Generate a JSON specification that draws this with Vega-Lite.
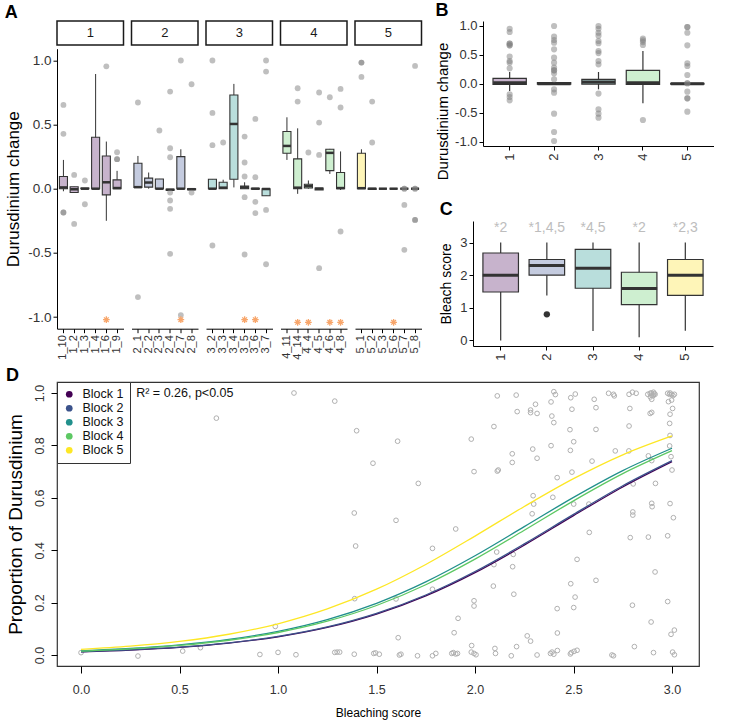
{
"$schema": "https://vega.github.io/schema/vega-lite/v6.json",
"padding": {"left": 4, "top": 1, "right": 0, "bottom": 0},
"background": "white",
"config": {
 "font": "Liberation Sans",
 "view": {"stroke": null},
 "axis": {"grid": false, "domainColor": "#000", "domainWidth": 1, "tickColor": "#000", "labelColor": "#333", "titleColor": "#000", "titleFontWeight": "normal", "labelFont": "Liberation Sans", "titleFont": "Liberation Sans"},
 "title": {"fontSize": 18, "fontWeight": "bold", "anchor": "start", "frame": "bounds", "offset": 2, "font": "Liberation Sans"},
 "legend": {"labelFont": "Liberation Sans"}
},
"resolve": {"legend": {"color": "independent"}},
"datasets": {
 "aHead": [{"block": "1"}, {"block": "2"}, {"block": "3"}, {"block": "4"}, {"block": "5"}],
 "aBox": [
  {"block": "1", "site": "1_10", "lo": -0.02, "q1": 0.0, "med": 0.01, "q3": 0.095, "hi": 0.224},
  {"block": "1", "site": "1_2", "lo": -0.03, "q1": -0.03, "med": -0.005, "q3": 0.015, "hi": 0.015},
  {"block": "1", "site": "1_3", "lo": 0.0, "q1": 0.0, "med": 0.0, "q3": 0.005, "hi": 0.005},
  {"block": "1", "site": "1_4", "lo": 0.0, "q1": 0.0, "med": 0.0, "q3": 0.40, "hi": 0.893},
  {"block": "1", "site": "1_6", "lo": -0.25, "q1": -0.048, "med": 0.05, "q3": 0.255, "hi": 0.367},
  {"block": "1", "site": "1_9", "lo": 0.0, "q1": 0.0, "med": 0.005, "q3": 0.069, "hi": 0.139},
  {"block": "2", "site": "2_1", "lo": 0.01, "q1": 0.01, "med": 0.012, "q3": 0.198, "hi": 0.255},
  {"block": "2", "site": "2_2", "lo": 0.0, "q1": 0.012, "med": 0.048, "q3": 0.082, "hi": 0.126},
  {"block": "2", "site": "2_3", "lo": 0.0, "q1": 0.0, "med": 0.0, "q3": 0.076, "hi": 0.076},
  {"block": "2", "site": "2_4", "lo": -0.012, "q1": -0.012, "med": -0.008, "q3": -0.004, "hi": -0.004},
  {"block": "2", "site": "2_7", "lo": 0.0, "q1": 0.0, "med": 0.0, "q3": 0.25, "hi": 0.307},
  {"block": "2", "site": "2_8", "lo": -0.008, "q1": -0.008, "med": -0.004, "q3": 0.0, "hi": 0.0},
  {"block": "3", "site": "3_2", "lo": 0.0, "q1": 0.0, "med": 0.0, "q3": 0.074, "hi": 0.074},
  {"block": "3", "site": "3_3", "lo": 0.0, "q1": 0.0, "med": 0.008, "q3": 0.05, "hi": 0.07},
  {"block": "3", "site": "3_4", "lo": 0.01, "q1": 0.074, "med": 0.504, "q3": 0.73, "hi": 0.816},
  {"block": "3", "site": "3_5", "lo": 0.0, "q1": 0.0, "med": 0.01, "q3": 0.02, "hi": 0.05},
  {"block": "3", "site": "3_6", "lo": -0.003, "q1": -0.003, "med": 0.0, "q3": 0.003, "hi": 0.003},
  {"block": "3", "site": "3_7", "lo": -0.055, "q1": -0.055, "med": -0.003, "q3": 0.0, "hi": 0.0},
  {"block": "4", "site": "4_11", "lo": 0.224, "q1": 0.276, "med": 0.333, "q3": 0.445, "hi": 0.556},
  {"block": "4", "site": "4_14", "lo": -0.04, "q1": 0.0, "med": 0.008, "q3": 0.232, "hi": 0.47},
  {"block": "4", "site": "4_4", "lo": 0.0, "q1": 0.005, "med": 0.02, "q3": 0.035, "hi": 0.064},
  {"block": "4", "site": "4_5", "lo": -0.01, "q1": -0.01, "med": 0.0, "q3": 0.005, "hi": 0.005},
  {"block": "4", "site": "4_6", "lo": 0.115, "q1": 0.141, "med": 0.279, "q3": 0.307, "hi": 0.31},
  {"block": "4", "site": "4_8", "lo": -0.01, "q1": 0.0, "med": 0.005, "q3": 0.126, "hi": 0.29},
  {"block": "5", "site": "5_1", "lo": 0.0, "q1": 0.0, "med": 0.004, "q3": 0.276, "hi": 0.307},
  {"block": "5", "site": "5_2", "lo": -0.005, "q1": -0.005, "med": 0.0, "q3": 0.003, "hi": 0.003},
  {"block": "5", "site": "5_3", "lo": 0.0, "q1": 0.0, "med": 0.0, "q3": 0.0, "hi": 0.0},
  {"block": "5", "site": "5_6", "lo": 0.0, "q1": 0.0, "med": 0.0, "q3": 0.0, "hi": 0.0},
  {"block": "5", "site": "5_7", "lo": 0.0, "q1": 0.0, "med": 0.0, "q3": 0.0, "hi": 0.0},
  {"block": "5", "site": "5_8", "lo": 0.0, "q1": 0.0, "med": 0.0, "q3": 0.0, "hi": 0.0}
 ],
 "aOut": [
  {"block": "1", "site": "1_10", "v": 0.652}, {"block": "1", "site": "1_10", "v": 0.427}, {"block": "1", "site": "1_10", "v": -0.185}, {"block": "1", "site": "1_10", "v": -0.185},
  {"block": "1", "site": "1_2", "v": 0.107}, {"block": "1", "site": "1_2", "v": -0.274},
  {"block": "1", "site": "1_3", "v": 0.064}, {"block": "1", "site": "1_3", "v": -0.121},
  {"block": "1", "site": "1_6", "v": 0.953},
  {"block": "1", "site": "1_9", "v": 0.284}, {"block": "1", "site": "1_9", "v": 0.23}, {"block": "1", "site": "1_9", "v": 0.23},
  {"block": "2", "site": "2_1", "v": 0.671}, {"block": "2", "site": "2_1", "v": -0.844},
  {"block": "2", "site": "2_3", "v": 0.453},
  {"block": "2", "site": "2_4", "v": 0.756}, {"block": "2", "site": "2_4", "v": 0.315}, {"block": "2", "site": "2_4", "v": 0.245}, {"block": "2", "site": "2_4", "v": -0.03}, {"block": "2", "site": "2_4", "v": -0.092}, {"block": "2", "site": "2_4", "v": -0.157}, {"block": "2", "site": "2_4", "v": -0.507},
  {"block": "2", "site": "2_7", "v": 0.998}, {"block": "2", "site": "2_7", "v": -0.984},
  {"block": "2", "site": "2_8", "v": 0.813}, {"block": "2", "site": "2_8", "v": -0.03},
  {"block": "3", "site": "3_2", "v": 0.998}, {"block": "3", "site": "3_2", "v": 0.59}, {"block": "3", "site": "3_2", "v": 0.339}, {"block": "3", "site": "3_2", "v": -0.442},
  {"block": "3", "site": "3_3", "v": 0.36},
  {"block": "3", "site": "3_5", "v": 0.406}, {"block": "3", "site": "3_5", "v": 0.204}, {"block": "3", "site": "3_5", "v": 0.095}, {"block": "3", "site": "3_5", "v": -0.066}, {"block": "3", "site": "3_5", "v": -0.512},
  {"block": "3", "site": "3_6", "v": 0.543}, {"block": "3", "site": "3_6", "v": 0.09}, {"block": "3", "site": "3_6", "v": -0.102}, {"block": "3", "site": "3_6", "v": -0.19},
  {"block": "3", "site": "3_7", "v": 0.998}, {"block": "3", "site": "3_7", "v": 0.912}, {"block": "3", "site": "3_7", "v": -0.165}, {"block": "3", "site": "3_7", "v": -0.588},
  {"block": "4", "site": "4_14", "v": 0.782}, {"block": "4", "site": "4_14", "v": 0.678},
  {"block": "4", "site": "4_4", "v": 0.282},
  {"block": "4", "site": "4_5", "v": 0.749}, {"block": "4", "site": "4_5", "v": 0.515}, {"block": "4", "site": "4_5", "v": 0.263}, {"block": "4", "site": "4_5", "v": -0.619},
  {"block": "4", "site": "4_6", "v": 0.712},
  {"block": "4", "site": "4_8", "v": 0.777}, {"block": "4", "site": "4_8", "v": 0.632}, {"block": "4", "site": "4_8", "v": -0.333},
  {"block": "5", "site": "5_1", "v": 0.982}, {"block": "5", "site": "5_1", "v": 0.982}, {"block": "5", "site": "5_1", "v": 0.87},
  {"block": "5", "site": "5_2", "v": 0.678}, {"block": "5", "site": "5_2", "v": 0.36},
  {"block": "5", "site": "5_7", "v": 0.0}, {"block": "5", "site": "5_7", "v": 0.0}, {"block": "5", "site": "5_7", "v": -0.126}, {"block": "5", "site": "5_7", "v": -0.476},
  {"block": "5", "site": "5_8", "v": 0.956}, {"block": "5", "site": "5_8", "v": 0.0}, {"block": "5", "site": "5_8", "v": 0.0}, {"block": "5", "site": "5_8", "v": -0.243}, {"block": "5", "site": "5_8", "v": -0.243}
 ],
 "aStar": [
  {"block": "1", "site": "1_6", "v": -1.02},
  {"block": "2", "site": "2_7", "v": -1.02},
  {"block": "3", "site": "3_5", "v": -1.02}, {"block": "3", "site": "3_6", "v": -1.02},
  {"block": "4", "site": "4_14", "v": -1.04}, {"block": "4", "site": "4_4", "v": -1.04}, {"block": "4", "site": "4_6", "v": -1.04}, {"block": "4", "site": "4_8", "v": -1.04},
  {"block": "5", "site": "5_6", "v": -1.04}
 ],
 "bBox": [
  {"block": "1", "lo": -0.124, "q1": -0.009, "med": 0.02, "q3": 0.095, "hi": 0.204},
  {"block": "2", "lo": -0.01, "q1": -0.005, "med": 0.0, "q3": 0.02, "hi": 0.03},
  {"block": "3", "lo": -0.095, "q1": -0.005, "med": 0.03, "q3": 0.078, "hi": 0.204},
  {"block": "4", "lo": -0.336, "q1": -0.009, "med": 0.02, "q3": 0.233, "hi": 0.566},
  {"block": "5", "lo": 0.0, "q1": -0.005, "med": 0.0, "q3": 0.01, "hi": 0.01}
 ],
 "bOut": [
  {"block": "1", "v": 0.95}, {"block": "1", "v": 0.893}, {"block": "1", "v": 0.693}, {"block": "1", "v": 0.693}, {"block": "1", "v": 0.664}, {"block": "1", "v": 0.664}, {"block": "1", "v": 0.469}, {"block": "1", "v": 0.393}, {"block": "1", "v": 0.365}, {"block": "1", "v": 0.267}, {"block": "1", "v": -0.181}, {"block": "1", "v": -0.227}, {"block": "1", "v": -0.284},
  {"block": "2", "v": 0.997}, {"block": "2", "v": 0.813}, {"block": "2", "v": 0.756}, {"block": "2", "v": 0.71}, {"block": "2", "v": 0.595}, {"block": "2", "v": 0.451}, {"block": "2", "v": 0.365}, {"block": "2", "v": 0.279}, {"block": "2", "v": 0.233}, {"block": "2", "v": 0.233}, {"block": "2", "v": 0.181}, {"block": "2", "v": 0.078}, {"block": "2", "v": -0.095}, {"block": "2", "v": -0.152}, {"block": "2", "v": -0.514}, {"block": "2", "v": -0.831}, {"block": "2", "v": -0.986},
  {"block": "3", "v": 0.997}, {"block": "3", "v": 0.95}, {"block": "3", "v": 0.88}, {"block": "3", "v": 0.83}, {"block": "3", "v": 0.738}, {"block": "3", "v": 0.70}, {"block": "3", "v": 0.566}, {"block": "3", "v": 0.53}, {"block": "3", "v": 0.393}, {"block": "3", "v": 0.336}, {"block": "3", "v": -0.169}, {"block": "3", "v": -0.44}, {"block": "3", "v": -0.514}, {"block": "3", "v": -0.583},
  {"block": "4", "v": 0.779}, {"block": "4", "v": 0.75}, {"block": "4", "v": 0.72}, {"block": "4", "v": 0.669}, {"block": "4", "v": -0.624},
  {"block": "5", "v": 0.98}, {"block": "5", "v": 0.98}, {"block": "5", "v": 0.88}, {"block": "5", "v": 0.664}, {"block": "5", "v": 0.353}, {"block": "5", "v": 0.307}, {"block": "5", "v": 0.152}, {"block": "5", "v": 0.01}, {"block": "5", "v": 0.01}, {"block": "5", "v": -0.135}, {"block": "5", "v": -0.25}, {"block": "5", "v": -0.25}, {"block": "5", "v": -0.48}
 ],
 "cBox": [
  {"block": "1", "lo": 0.0, "q1": 1.485, "med": 2.0, "q3": 2.68, "hi": 3.0},
  {"block": "2", "lo": 1.38, "q1": 2.0, "med": 2.3, "q3": 2.48, "hi": 3.0},
  {"block": "3", "lo": 0.29, "q1": 1.6, "med": 2.21, "q3": 2.79, "hi": 3.0},
  {"block": "4", "lo": 0.1, "q1": 1.1, "med": 1.59, "q3": 2.09, "hi": 3.0},
  {"block": "5", "lo": 0.3, "q1": 1.38, "med": 2.0, "q3": 2.48, "hi": 3.0}
 ],
 "cOut": [{"block": "2", "v": 0.8}],
 "cLab": [
  {"block": "1", "label": "*2", "v": 3.45},
  {"block": "2", "label": "*1,4,5", "v": 3.45},
  {"block": "3", "label": "*4,5", "v": 3.45},
  {"block": "4", "label": "*2", "v": 3.45},
  {"block": "5", "label": "*2,3", "v": 3.45}
 ],
 "dCurve": [
  {"block": "Block 1", "x": 0, "p": 0.0120}, {"block": "Block 1", "x": 0.25, "p": 0.0188}, {"block": "Block 1", "x": 0.5, "p": 0.0292}, {"block": "Block 1", "x": 0.75, "p": 0.0453}, {"block": "Block 1", "x": 1, "p": 0.0694}, {"block": "Block 1", "x": 1.25, "p": 0.1051}, {"block": "Block 1", "x": 1.5, "p": 0.1561}, {"block": "Block 1", "x": 1.75, "p": 0.2255}, {"block": "Block 1", "x": 2, "p": 0.3143}, {"block": "Block 1", "x": 2.25, "p": 0.4192}, {"block": "Block 1", "x": 2.5, "p": 0.5318}, {"block": "Block 1", "x": 2.75, "p": 0.6414}, {"block": "Block 1", "x": 3, "p": 0.7379},
  {"block": "Block 2", "x": 0, "p": 0.0122}, {"block": "Block 2", "x": 0.25, "p": 0.0192}, {"block": "Block 2", "x": 0.5, "p": 0.0298}, {"block": "Block 2", "x": 0.75, "p": 0.0462}, {"block": "Block 2", "x": 1, "p": 0.0707}, {"block": "Block 2", "x": 1.25, "p": 0.1070}, {"block": "Block 2", "x": 1.5, "p": 0.1588}, {"block": "Block 2", "x": 1.75, "p": 0.2290}, {"block": "Block 2", "x": 2, "p": 0.3186}, {"block": "Block 2", "x": 2.25, "p": 0.4241}, {"block": "Block 2", "x": 2.5, "p": 0.5368}, {"block": "Block 2", "x": 2.75, "p": 0.6460}, {"block": "Block 2", "x": 3, "p": 0.7418},
  {"block": "Block 3", "x": 0, "p": 0.0159}, {"block": "Block 3", "x": 0.25, "p": 0.0248}, {"block": "Block 3", "x": 0.5, "p": 0.0385}, {"block": "Block 3", "x": 0.75, "p": 0.0593}, {"block": "Block 3", "x": 1, "p": 0.0903}, {"block": "Block 3", "x": 1.25, "p": 0.1352}, {"block": "Block 3", "x": 1.5, "p": 0.1974}, {"block": "Block 3", "x": 1.75, "p": 0.2791}, {"block": "Block 3", "x": 2, "p": 0.3787}, {"block": "Block 3", "x": 2.25, "p": 0.4898}, {"block": "Block 3", "x": 2.5, "p": 0.6017}, {"block": "Block 3", "x": 2.75, "p": 0.7039}, {"block": "Block 3", "x": 3, "p": 0.7892},
  {"block": "Block 4", "x": 0, "p": 0.0151}, {"block": "Block 4", "x": 0.25, "p": 0.0235}, {"block": "Block 4", "x": 0.5, "p": 0.0365}, {"block": "Block 4", "x": 0.75, "p": 0.0563}, {"block": "Block 4", "x": 1, "p": 0.0859}, {"block": "Block 4", "x": 1.25, "p": 0.1289}, {"block": "Block 4", "x": 1.5, "p": 0.1889}, {"block": "Block 4", "x": 1.75, "p": 0.2682}, {"block": "Block 4", "x": 2, "p": 0.3659}, {"block": "Block 4", "x": 2.25, "p": 0.4760}, {"block": "Block 4", "x": 2.5, "p": 0.5885}, {"block": "Block 4", "x": 2.75, "p": 0.6923}, {"block": "Block 4", "x": 3, "p": 0.7799},
  {"block": "Block 5", "x": 0, "p": 0.0215}, {"block": "Block 5", "x": 0.25, "p": 0.0335}, {"block": "Block 5", "x": 0.5, "p": 0.0518}, {"block": "Block 5", "x": 0.75, "p": 0.0792}, {"block": "Block 5", "x": 1, "p": 0.1192}, {"block": "Block 5", "x": 1.25, "p": 0.1757}, {"block": "Block 5", "x": 1.5, "p": 0.2511}, {"block": "Block 5", "x": 1.75, "p": 0.3455}, {"block": "Block 5", "x": 2, "p": 0.4539}, {"block": "Block 5", "x": 2.25, "p": 0.5669}, {"block": "Block 5", "x": 2.5, "p": 0.6732}, {"block": "Block 5", "x": 2.75, "p": 0.7642}, {"block": "Block 5", "x": 3, "p": 0.8361}
 ],
 "dText": [{"x": 0.28, "y": 1.0, "label": "R² = 0.26, p<0.05"}],
 "dPts": [
  {"x": 0.0, "y": 0.009}, {"x": 0.289, "y": -0.004}, {"x": 0.516, "y": 0.015}, {"x": 0.606, "y": 0.028}, {"x": 0.687, "y": 0.904}, {"x": 0.908, "y": 0.002}, {"x": 0.986, "y": 0.109}, {"x": 1.0, "y": 0.01}, {"x": 1.081, "y": 1.0}, {"x": 1.091, "y": 0.001}, {"x": 1.288, "y": 0.969}, {"x": 1.288, "y": 0.01}, {"x": 1.30, "y": 0.011}, {"x": 1.313, "y": 0.011}, {"x": 1.387, "y": 0.003}, {"x": 1.389, "y": 0.215}, {"x": 1.394, "y": 0.416}, {"x": 1.399, "y": 0.856}, {"x": 1.482, "y": 0.732}, {"x": 1.387, "y": 0.542}, {"x": 1.486, "y": 0.006}, {"x": 1.495, "y": 0.008},
  {"x": 1.599, "y": 0.214}, {"x": 1.610, "y": 0.066}, {"x": 1.607, "y": 0.816}, {"x": 1.599, "y": 0.514}, {"x": 1.712, "y": 0.655},
  {"x": 2.113, "y": 0.989}, {"x": 2.209, "y": 0.992}, {"x": 2.400, "y": 1.005}, {"x": 2.408, "y": 0.994}, {"x": 2.486, "y": 0.982}, {"x": 2.509, "y": 0.996}, {"x": 2.605, "y": 0.976}, {"x": 2.678, "y": 0.999}, {"x": 2.703, "y": 0.995}, {"x": 2.707, "y": 0.989}, {"x": 2.782, "y": 0.995}, {"x": 2.799, "y": 1.003}, {"x": 2.818, "y": 0.999}, {"x": 2.877, "y": 0.995}, {"x": 2.889, "y": 0.999}, {"x": 2.897, "y": 0.992}, {"x": 2.906, "y": 1.003}, {"x": 2.914, "y": 0.995}, {"x": 2.897, "y": 0.976}, {"x": 2.978, "y": 0.999}, {"x": 2.987, "y": 0.995}, {"x": 2.998, "y": 0.995}, {"x": 3.012, "y": 0.995}, {"x": 2.982, "y": 0.967}, {"x": 2.998, "y": 0.973}, {"x": 2.895, "y": 1.0}, {"x": 2.905, "y": 0.99}, {"x": 2.91, "y": 0.998}, {"x": 2.89, "y": 0.985}, {"x": 2.99, "y": 1.0}, {"x": 3.005, "y": 0.99},
  {"x": 2.214, "y": 0.929}, {"x": 2.282, "y": 0.935}, {"x": 2.307, "y": 0.957}, {"x": 2.315, "y": 0.922}, {"x": 2.282, "y": 0.925}, {"x": 2.386, "y": 0.966}, {"x": 2.390, "y": 0.912}, {"x": 2.400, "y": 0.887}, {"x": 2.492, "y": 0.938}, {"x": 2.614, "y": 0.944}, {"x": 2.786, "y": 0.941}, {"x": 2.889, "y": 0.922}, {"x": 2.897, "y": 0.926}, {"x": 3.003, "y": 0.941}, {"x": 2.990, "y": 0.919}, {"x": 2.096, "y": 0.872}, {"x": 2.482, "y": 0.860}, {"x": 2.614, "y": 0.861}, {"x": 2.782, "y": 0.874}, {"x": 2.988, "y": 0.884},
  {"x": 1.981, "y": 0.824}, {"x": 2.386, "y": 0.799}, {"x": 2.501, "y": 0.814}, {"x": 2.484, "y": 0.781}, {"x": 2.293, "y": 0.786}, {"x": 2.315, "y": 0.751}, {"x": 2.189, "y": 0.768}, {"x": 2.189, "y": 0.735}, {"x": 2.118, "y": 0.706}, {"x": 2.113, "y": 0.702}, {"x": 1.995, "y": 0.700}, {"x": 2.492, "y": 0.698}, {"x": 2.594, "y": 0.740}, {"x": 2.712, "y": 0.779}, {"x": 2.781, "y": 0.779}, {"x": 2.417, "y": 0.677}, {"x": 2.880, "y": 0.760}, {"x": 2.897, "y": 0.742}, {"x": 2.990, "y": 0.838}, {"x": 2.988, "y": 0.798}, {"x": 2.995, "y": 0.757}, {"x": 3.000, "y": 0.706},
  {"x": 2.395, "y": 0.602}, {"x": 2.295, "y": 0.608}, {"x": 2.298, "y": 0.576}, {"x": 2.290, "y": 0.539}, {"x": 2.501, "y": 0.576}, {"x": 2.578, "y": 0.576}, {"x": 2.803, "y": 0.653}, {"x": 2.916, "y": 0.655}, {"x": 2.897, "y": 0.579}, {"x": 2.899, "y": 0.566}, {"x": 2.990, "y": 0.578}, {"x": 3.007, "y": 0.524}, {"x": 2.801, "y": 0.546}, {"x": 2.801, "y": 0.534},
  {"x": 1.902, "y": 0.481}, {"x": 2.580, "y": 0.468}, {"x": 2.788, "y": 0.448}, {"x": 2.880, "y": 0.450}, {"x": 2.978, "y": 0.455}, {"x": 1.784, "y": 0.407}, {"x": 2.110, "y": 0.393}, {"x": 2.194, "y": 0.384}, {"x": 2.096, "y": 0.345}, {"x": 2.191, "y": 0.337}, {"x": 2.518, "y": 0.365}, {"x": 2.914, "y": 0.317}, {"x": 2.486, "y": 0.272}, {"x": 2.614, "y": 0.285}, {"x": 1.784, "y": 0.251}, {"x": 2.093, "y": 0.263}, {"x": 2.197, "y": 0.232}, {"x": 1.995, "y": 0.207}, {"x": 1.995, "y": 0.187}, {"x": 2.508, "y": 0.221}, {"x": 2.501, "y": 0.181}, {"x": 2.417, "y": 0.177}, {"x": 2.799, "y": 0.190}, {"x": 2.978, "y": 0.204}, {"x": 1.914, "y": 0.140}, {"x": 2.894, "y": 0.126}, {"x": 1.894, "y": 0.085}, {"x": 2.265, "y": 0.073}, {"x": 2.282, "y": 0.053}, {"x": 2.418, "y": 0.084}, {"x": 2.995, "y": 0.079}, {"x": 3.012, "y": 0.095},
  {"x": 1.514, "y": 0.003}, {"x": 1.616, "y": 0.0}, {"x": 1.624, "y": 0.003}, {"x": 1.708, "y": -0.003}, {"x": 1.784, "y": -0.003}, {"x": 1.801, "y": 0.006}, {"x": 1.882, "y": 0.006}, {"x": 1.890, "y": 0.009}, {"x": 1.902, "y": 0.004}, {"x": 1.911, "y": 0.006}, {"x": 1.983, "y": 0.036}, {"x": 1.981, "y": 0.011}, {"x": 1.995, "y": 0.006}, {"x": 2.005, "y": 0.001}, {"x": 2.101, "y": 0.025}, {"x": 2.104, "y": 0.006}, {"x": 2.184, "y": -0.003}, {"x": 2.211, "y": 0.032}, {"x": 2.315, "y": 0.0}, {"x": 2.383, "y": 0.006}, {"x": 2.391, "y": 0.011}, {"x": 2.418, "y": 0.017}, {"x": 2.400, "y": 0.003}, {"x": 2.484, "y": 0.004}, {"x": 2.489, "y": 0.009}, {"x": 2.503, "y": 0.014}, {"x": 2.518, "y": 0.018}, {"x": 2.695, "y": 0.0}, {"x": 2.703, "y": -0.003}, {"x": 2.809, "y": 0.032}, {"x": 2.906, "y": 0.009}, {"x": 3.003, "y": 0.011}, {"x": 3.012, "y": 0.001}
 ]
},
"spacing": 4,
"vconcat": [
 {
  "spacing": 12,
  "hconcat": [
   {
    "title": {"text": "A", "offset": -2},
    "spacing": 5.5,
    "hconcat": [
     {"spacing": 2.7, "vconcat": [
      {"width": 66.5, "height": 24, "view": {"stroke": "#1a1a1a", "strokeWidth": 1.5, "fill": "white"}, "data": {"name": "aHead"}, "transform": [{"filter": "datum.block == '1'"}], "mark": {"type": "text", "fontSize": 13, "color": "#1a1a1a"}, "encoding": {"text": {"field": "block"}}},
      {"width": 66.5, "height": 280,
       "encoding": {"x": {"field": "site", "type": "nominal", "scale": {"domain": ["1_10", "1_2", "1_3", "1_4", "1_6", "1_9"], "paddingInner": 0, "paddingOuter": 0.1}, "axis": {"labelAngle": -90, "labelFontSize": 11, "tickSize": 4, "labelPadding": 2, "title": null}}},
       "layer": [
        {"data": {"name": "aBox"}, "transform": [{"filter": "datum.block == '1'"}], "mark": {"type": "rule", "color": "#333", "strokeWidth": 1}, "encoding": {"y": {"field": "lo", "type": "quantitative", "scale": {"domain": [-1.09, 1.09], "nice": false}, "axis": {"values": [-1, -0.5, 0, 0.5, 1], "format": ".1f", "labelExpr": "replace(datum.label, '−', '-')", "labelFontSize": 13.5, "tickSize": 4, "labelPadding": 2, "title": "Durusdinium change", "titleFontSize": 17, "titlePadding": 5}}, "y2": {"field": "hi"}}},
        {"data": {"name": "aBox"}, "transform": [{"filter": "datum.block == '1'"}], "mark": {"type": "bar", "stroke": "#333", "strokeWidth": 1.1, "width": {"band": 0.75}}, "encoding": {"y": {"field": "q1", "type": "quantitative", "scale": {"domain": [-1.09, 1.09], "nice": false}, "axis": {"values": [-1, -0.5, 0, 0.5, 1], "format": ".1f", "labelExpr": "replace(datum.label, '−', '-')", "labelFontSize": 13.5, "tickSize": 4, "labelPadding": 2, "title": "Durusdinium change", "titleFontSize": 17, "titlePadding": 5}}, "y2": {"field": "q3"}, "fill": {"field": "block", "type": "nominal", "scale": {"domain": ["1", "2", "3", "4", "5"], "range": ["#C7B3CC", "#C4CBDF", "#B9DEDC", "#CEEFD0", "#FEF5B8"]}, "legend": null}}},
        {"data": {"name": "aBox"}, "transform": [{"filter": "datum.block == '1'"}], "mark": {"type": "tick", "color": "#333", "thickness": 2.5, "size": 8, "opacity": 1}, "encoding": {"y": {"field": "med", "type": "quantitative", "scale": {"domain": [-1.09, 1.09], "nice": false}, "axis": {"values": [-1, -0.5, 0, 0.5, 1], "format": ".1f", "labelExpr": "replace(datum.label, '−', '-')", "labelFontSize": 13.5, "tickSize": 4, "labelPadding": 2, "title": "Durusdinium change", "titleFontSize": 17, "titlePadding": 5}}}},
        {"data": {"name": "aOut"}, "transform": [{"filter": "datum.block == '1'"}], "mark": {"type": "point", "filled": true, "color": "#7f7f7f", "opacity": 0.5, "size": 34}, "encoding": {"y": {"field": "v", "type": "quantitative", "scale": {"domain": [-1.09, 1.09], "nice": false}, "axis": {"values": [-1, -0.5, 0, 0.5, 1], "format": ".1f", "labelExpr": "replace(datum.label, '−', '-')", "labelFontSize": 13.5, "tickSize": 4, "labelPadding": 2, "title": "Durusdinium change", "titleFontSize": 17, "titlePadding": 5}}}},
        {"data": {"name": "aStar"}, "transform": [{"filter": "datum.block == '1'"}], "mark": {"type": "point", "shape": "M-1,0L1,0M0,-1L0,1M-0.7,-0.7L0.7,0.7M-0.7,0.7L0.7,-0.7", "filled": false, "color": "#F8A66B", "strokeWidth": 1.3, "size": 45, "opacity": 1}, "encoding": {"y": {"field": "v", "type": "quantitative", "scale": {"domain": [-1.09, 1.09], "nice": false}, "axis": {"values": [-1, -0.5, 0, 0.5, 1], "format": ".1f", "labelExpr": "replace(datum.label, '−', '-')", "labelFontSize": 13.5, "tickSize": 4, "labelPadding": 2, "title": "Durusdinium change", "titleFontSize": 17, "titlePadding": 5}}}}
       ]}
     ]},
     {"spacing": 2.7, "vconcat": [
      {"width": 66.5, "height": 24, "view": {"stroke": "#1a1a1a", "strokeWidth": 1.5, "fill": "white"}, "data": {"name": "aHead"}, "transform": [{"filter": "datum.block == '2'"}], "mark": {"type": "text", "fontSize": 13, "color": "#1a1a1a"}, "encoding": {"text": {"field": "block"}}},
      {"width": 66.5, "height": 280,
       "encoding": {"x": {"field": "site", "type": "nominal", "scale": {"domain": ["2_1", "2_2", "2_3", "2_4", "2_7", "2_8"], "paddingInner": 0, "paddingOuter": 0.1}, "axis": {"labelAngle": -90, "labelFontSize": 11, "tickSize": 4, "labelPadding": 2, "title": null}}},
       "layer": [
        {"data": {"name": "aBox"}, "transform": [{"filter": "datum.block == '2'"}], "mark": {"type": "rule", "color": "#333", "strokeWidth": 1}, "encoding": {"y": {"field": "lo", "type": "quantitative", "scale": {"domain": [-1.09, 1.09], "nice": false}, "axis": null}, "y2": {"field": "hi"}}},
        {"data": {"name": "aBox"}, "transform": [{"filter": "datum.block == '2'"}], "mark": {"type": "bar", "stroke": "#333", "strokeWidth": 1.1, "width": {"band": 0.75}}, "encoding": {"y": {"field": "q1", "type": "quantitative", "scale": {"domain": [-1.09, 1.09], "nice": false}, "axis": null}, "y2": {"field": "q3"}, "fill": {"field": "block", "type": "nominal", "scale": {"domain": ["1", "2", "3", "4", "5"], "range": ["#C7B3CC", "#C4CBDF", "#B9DEDC", "#CEEFD0", "#FEF5B8"]}, "legend": null}}},
        {"data": {"name": "aBox"}, "transform": [{"filter": "datum.block == '2'"}], "mark": {"type": "tick", "color": "#333", "thickness": 2.5, "size": 8, "opacity": 1}, "encoding": {"y": {"field": "med", "type": "quantitative", "scale": {"domain": [-1.09, 1.09], "nice": false}, "axis": null}}},
        {"data": {"name": "aOut"}, "transform": [{"filter": "datum.block == '2'"}], "mark": {"type": "point", "filled": true, "color": "#7f7f7f", "opacity": 0.5, "size": 34}, "encoding": {"y": {"field": "v", "type": "quantitative", "scale": {"domain": [-1.09, 1.09], "nice": false}, "axis": null}}},
        {"data": {"name": "aStar"}, "transform": [{"filter": "datum.block == '2'"}], "mark": {"type": "point", "shape": "M-1,0L1,0M0,-1L0,1M-0.7,-0.7L0.7,0.7M-0.7,0.7L0.7,-0.7", "filled": false, "color": "#F8A66B", "strokeWidth": 1.3, "size": 45, "opacity": 1}, "encoding": {"y": {"field": "v", "type": "quantitative", "scale": {"domain": [-1.09, 1.09], "nice": false}, "axis": null}}}
       ]}
     ]},
     {"spacing": 2.7, "vconcat": [
      {"width": 66.5, "height": 24, "view": {"stroke": "#1a1a1a", "strokeWidth": 1.5, "fill": "white"}, "data": {"name": "aHead"}, "transform": [{"filter": "datum.block == '3'"}], "mark": {"type": "text", "fontSize": 13, "color": "#1a1a1a"}, "encoding": {"text": {"field": "block"}}},
      {"width": 66.5, "height": 280,
       "encoding": {"x": {"field": "site", "type": "nominal", "scale": {"domain": ["3_2", "3_3", "3_4", "3_5", "3_6", "3_7"], "paddingInner": 0, "paddingOuter": 0.1}, "axis": {"labelAngle": -90, "labelFontSize": 11, "tickSize": 4, "labelPadding": 2, "title": null}}},
       "layer": [
        {"data": {"name": "aBox"}, "transform": [{"filter": "datum.block == '3'"}], "mark": {"type": "rule", "color": "#333", "strokeWidth": 1}, "encoding": {"y": {"field": "lo", "type": "quantitative", "scale": {"domain": [-1.09, 1.09], "nice": false}, "axis": null}, "y2": {"field": "hi"}}},
        {"data": {"name": "aBox"}, "transform": [{"filter": "datum.block == '3'"}], "mark": {"type": "bar", "stroke": "#333", "strokeWidth": 1.1, "width": {"band": 0.75}}, "encoding": {"y": {"field": "q1", "type": "quantitative", "scale": {"domain": [-1.09, 1.09], "nice": false}, "axis": null}, "y2": {"field": "q3"}, "fill": {"field": "block", "type": "nominal", "scale": {"domain": ["1", "2", "3", "4", "5"], "range": ["#C7B3CC", "#C4CBDF", "#B9DEDC", "#CEEFD0", "#FEF5B8"]}, "legend": null}}},
        {"data": {"name": "aBox"}, "transform": [{"filter": "datum.block == '3'"}], "mark": {"type": "tick", "color": "#333", "thickness": 2.5, "size": 8, "opacity": 1}, "encoding": {"y": {"field": "med", "type": "quantitative", "scale": {"domain": [-1.09, 1.09], "nice": false}, "axis": null}}},
        {"data": {"name": "aOut"}, "transform": [{"filter": "datum.block == '3'"}], "mark": {"type": "point", "filled": true, "color": "#7f7f7f", "opacity": 0.5, "size": 34}, "encoding": {"y": {"field": "v", "type": "quantitative", "scale": {"domain": [-1.09, 1.09], "nice": false}, "axis": null}}},
        {"data": {"name": "aStar"}, "transform": [{"filter": "datum.block == '3'"}], "mark": {"type": "point", "shape": "M-1,0L1,0M0,-1L0,1M-0.7,-0.7L0.7,0.7M-0.7,0.7L0.7,-0.7", "filled": false, "color": "#F8A66B", "strokeWidth": 1.3, "size": 45, "opacity": 1}, "encoding": {"y": {"field": "v", "type": "quantitative", "scale": {"domain": [-1.09, 1.09], "nice": false}, "axis": null}}}
       ]}
     ]},
     {"spacing": 2.7, "vconcat": [
      {"width": 66.5, "height": 24, "view": {"stroke": "#1a1a1a", "strokeWidth": 1.5, "fill": "white"}, "data": {"name": "aHead"}, "transform": [{"filter": "datum.block == '4'"}], "mark": {"type": "text", "fontSize": 13, "color": "#1a1a1a"}, "encoding": {"text": {"field": "block"}}},
      {"width": 66.5, "height": 280,
       "encoding": {"x": {"field": "site", "type": "nominal", "scale": {"domain": ["4_11", "4_14", "4_4", "4_5", "4_6", "4_8"], "paddingInner": 0, "paddingOuter": 0.1}, "axis": {"labelAngle": -90, "labelFontSize": 11, "tickSize": 4, "labelPadding": 2, "title": null}}},
       "layer": [
        {"data": {"name": "aBox"}, "transform": [{"filter": "datum.block == '4'"}], "mark": {"type": "rule", "color": "#333", "strokeWidth": 1}, "encoding": {"y": {"field": "lo", "type": "quantitative", "scale": {"domain": [-1.09, 1.09], "nice": false}, "axis": null}, "y2": {"field": "hi"}}},
        {"data": {"name": "aBox"}, "transform": [{"filter": "datum.block == '4'"}], "mark": {"type": "bar", "stroke": "#333", "strokeWidth": 1.1, "width": {"band": 0.75}}, "encoding": {"y": {"field": "q1", "type": "quantitative", "scale": {"domain": [-1.09, 1.09], "nice": false}, "axis": null}, "y2": {"field": "q3"}, "fill": {"field": "block", "type": "nominal", "scale": {"domain": ["1", "2", "3", "4", "5"], "range": ["#C7B3CC", "#C4CBDF", "#B9DEDC", "#CEEFD0", "#FEF5B8"]}, "legend": null}}},
        {"data": {"name": "aBox"}, "transform": [{"filter": "datum.block == '4'"}], "mark": {"type": "tick", "color": "#333", "thickness": 2.5, "size": 8, "opacity": 1}, "encoding": {"y": {"field": "med", "type": "quantitative", "scale": {"domain": [-1.09, 1.09], "nice": false}, "axis": null}}},
        {"data": {"name": "aOut"}, "transform": [{"filter": "datum.block == '4'"}], "mark": {"type": "point", "filled": true, "color": "#7f7f7f", "opacity": 0.5, "size": 34}, "encoding": {"y": {"field": "v", "type": "quantitative", "scale": {"domain": [-1.09, 1.09], "nice": false}, "axis": null}}},
        {"data": {"name": "aStar"}, "transform": [{"filter": "datum.block == '4'"}], "mark": {"type": "point", "shape": "M-1,0L1,0M0,-1L0,1M-0.7,-0.7L0.7,0.7M-0.7,0.7L0.7,-0.7", "filled": false, "color": "#F8A66B", "strokeWidth": 1.3, "size": 45, "opacity": 1}, "encoding": {"y": {"field": "v", "type": "quantitative", "scale": {"domain": [-1.09, 1.09], "nice": false}, "axis": null}}}
       ]}
     ]},
     {"spacing": 2.7, "vconcat": [
      {"width": 66.5, "height": 24, "view": {"stroke": "#1a1a1a", "strokeWidth": 1.5, "fill": "white"}, "data": {"name": "aHead"}, "transform": [{"filter": "datum.block == '5'"}], "mark": {"type": "text", "fontSize": 13, "color": "#1a1a1a"}, "encoding": {"text": {"field": "block"}}},
      {"width": 66.5, "height": 280,
       "encoding": {"x": {"field": "site", "type": "nominal", "scale": {"domain": ["5_1", "5_2", "5_3", "5_6", "5_7", "5_8"], "paddingInner": 0, "paddingOuter": 0.1}, "axis": {"labelAngle": -90, "labelFontSize": 11, "tickSize": 4, "labelPadding": 2, "title": null}}},
       "layer": [
        {"data": {"name": "aBox"}, "transform": [{"filter": "datum.block == '5'"}], "mark": {"type": "rule", "color": "#333", "strokeWidth": 1}, "encoding": {"y": {"field": "lo", "type": "quantitative", "scale": {"domain": [-1.09, 1.09], "nice": false}, "axis": null}, "y2": {"field": "hi"}}},
        {"data": {"name": "aBox"}, "transform": [{"filter": "datum.block == '5'"}], "mark": {"type": "bar", "stroke": "#333", "strokeWidth": 1.1, "width": {"band": 0.75}}, "encoding": {"y": {"field": "q1", "type": "quantitative", "scale": {"domain": [-1.09, 1.09], "nice": false}, "axis": null}, "y2": {"field": "q3"}, "fill": {"field": "block", "type": "nominal", "scale": {"domain": ["1", "2", "3", "4", "5"], "range": ["#C7B3CC", "#C4CBDF", "#B9DEDC", "#CEEFD0", "#FEF5B8"]}, "legend": null}}},
        {"data": {"name": "aBox"}, "transform": [{"filter": "datum.block == '5'"}], "mark": {"type": "tick", "color": "#333", "thickness": 2.5, "size": 8, "opacity": 1}, "encoding": {"y": {"field": "med", "type": "quantitative", "scale": {"domain": [-1.09, 1.09], "nice": false}, "axis": null}}},
        {"data": {"name": "aOut"}, "transform": [{"filter": "datum.block == '5'"}], "mark": {"type": "point", "filled": true, "color": "#7f7f7f", "opacity": 0.5, "size": 34}, "encoding": {"y": {"field": "v", "type": "quantitative", "scale": {"domain": [-1.09, 1.09], "nice": false}, "axis": null}}},
        {"data": {"name": "aStar"}, "transform": [{"filter": "datum.block == '5'"}], "mark": {"type": "point", "shape": "M-1,0L1,0M0,-1L0,1M-0.7,-0.7L0.7,0.7M-0.7,0.7L0.7,-0.7", "filled": false, "color": "#F8A66B", "strokeWidth": 1.3, "size": 45, "opacity": 1}, "encoding": {"y": {"field": "v", "type": "quantitative", "scale": {"domain": [-1.09, 1.09], "nice": false}, "axis": null}}}
       ]}
     ]}
    ]
   },
   {
    "spacing": 20,
    "columns": 1,
    "concat": [
     {"width": 241, "height": 125, "title": {"text": "B", "offset": 0},
      "encoding": {"x": {"field": "block", "type": "nominal", "scale": {"domain": ["1", "2", "3", "4", "5"], "paddingInner": 0, "paddingOuter": 0.1, "range": [10, 241]}, "axis": {"labelAngle": -90, "labelFontSize": 13, "tickSize": 4, "labelPadding": 3, "title": null}}},
      "layer": [
       {"data": {"name": "bBox"}, "mark": {"type": "rule", "color": "#333", "strokeWidth": 1.2}, "encoding": {"y": {"field": "lo", "type": "quantitative", "scale": {"domain": [-1.072, 1.083], "nice": false}, "axis": {"offset": -10, "values": [-1, -0.5, 0, 0.5, 1], "format": ".1f", "labelExpr": "replace(datum.label, '−', '-')", "labelFontSize": 13, "tickSize": 4, "labelPadding": 2, "title": "Durusdinium change", "titleFontSize": 15, "titlePadding": 4, "titleY": 90}}, "y2": {"field": "hi"}}},
       {"data": {"name": "bBox"}, "mark": {"type": "bar", "stroke": "#333", "strokeWidth": 1.2, "width": {"band": 0.75}}, "encoding": {"y": {"field": "q1", "type": "quantitative", "scale": {"domain": [-1.072, 1.083], "nice": false}, "axis": {"offset": -10, "values": [-1, -0.5, 0, 0.5, 1], "format": ".1f", "labelExpr": "replace(datum.label, '−', '-')", "labelFontSize": 13, "tickSize": 4, "labelPadding": 2, "title": "Durusdinium change", "titleFontSize": 15, "titlePadding": 4, "titleY": 90}}, "y2": {"field": "q3"}, "fill": {"field": "block", "type": "nominal", "scale": {"domain": ["1", "2", "3", "4", "5"], "range": ["#C7B3CC", "#C4CBDF", "#B9DEDC", "#CEEFD0", "#FEF5B8"]}, "legend": null}}},
       {"data": {"name": "bBox"}, "mark": {"type": "tick", "color": "#333", "thickness": 3, "size": 33, "opacity": 1}, "encoding": {"y": {"field": "med", "type": "quantitative", "scale": {"domain": [-1.072, 1.083], "nice": false}, "axis": {"offset": -10, "values": [-1, -0.5, 0, 0.5, 1], "format": ".1f", "labelExpr": "replace(datum.label, '−', '-')", "labelFontSize": 13, "tickSize": 4, "labelPadding": 2, "title": "Durusdinium change", "titleFontSize": 15, "titlePadding": 4, "titleY": 90}}}},
       {"data": {"name": "bOut"}, "mark": {"type": "point", "filled": true, "color": "#7f7f7f", "opacity": 0.5, "size": 38}, "encoding": {"y": {"field": "v", "type": "quantitative", "scale": {"domain": [-1.072, 1.083], "nice": false}, "axis": {"offset": -10, "values": [-1, -0.5, 0, 0.5, 1], "format": ".1f", "labelExpr": "replace(datum.label, '−', '-')", "labelFontSize": 13, "tickSize": 4, "labelPadding": 2, "title": "Durusdinium change", "titleFontSize": 15, "titlePadding": 4, "titleY": 90}}}}
      ]},
     {"width": 240, "height": 125, "title": {"text": "C"},
      "encoding": {"x": {"field": "block", "type": "nominal", "scale": {"domain": ["1", "2", "3", "4", "5"], "paddingInner": 0, "paddingOuter": 0.1}, "axis": {"labelAngle": -90, "labelFontSize": 13, "tickSize": 4, "labelPadding": 3, "title": null}}},
      "layer": [
       {"data": {"name": "cBox"}, "mark": {"type": "rule", "color": "#333", "strokeWidth": 1.2}, "encoding": {"y": {"field": "lo", "type": "quantitative", "scale": {"domain": [-0.17, 3.66], "nice": false}, "axis": {"values": [0, 1, 2, 3], "labelFontSize": 13, "tickSize": 4, "labelPadding": 2, "title": "Bleach score", "titleFontSize": 14, "titlePadding": 6}}, "y2": {"field": "hi"}}},
       {"data": {"name": "cBox"}, "mark": {"type": "bar", "stroke": "#333", "strokeWidth": 1.2, "width": {"band": 0.77}}, "encoding": {"y": {"field": "q1", "type": "quantitative", "scale": {"domain": [-0.17, 3.66], "nice": false}, "axis": {"values": [0, 1, 2, 3], "labelFontSize": 13, "tickSize": 4, "labelPadding": 2, "title": "Bleach score", "titleFontSize": 14, "titlePadding": 6}}, "y2": {"field": "q3"}, "fill": {"field": "block", "type": "nominal", "scale": {"domain": ["1", "2", "3", "4", "5"], "range": ["#C7B3CC", "#C4CBDF", "#B9DEDC", "#CEEFD0", "#FEF5B8"]}, "legend": null}}},
       {"data": {"name": "cBox"}, "mark": {"type": "tick", "color": "#333", "thickness": 3, "size": 36, "opacity": 1}, "encoding": {"y": {"field": "med", "type": "quantitative", "scale": {"domain": [-0.17, 3.66], "nice": false}, "axis": {"values": [0, 1, 2, 3], "labelFontSize": 13, "tickSize": 4, "labelPadding": 2, "title": "Bleach score", "titleFontSize": 14, "titlePadding": 6}}}},
       {"data": {"name": "cOut"}, "mark": {"type": "point", "filled": true, "color": "#333", "opacity": 1, "size": 40}, "encoding": {"y": {"field": "v", "type": "quantitative", "scale": {"domain": [-0.17, 3.66], "nice": false}, "axis": {"values": [0, 1, 2, 3], "labelFontSize": 13, "tickSize": 4, "labelPadding": 2, "title": "Bleach score", "titleFontSize": 14, "titlePadding": 6}}}},
       {"data": {"name": "cLab"}, "mark": {"type": "text", "color": "#bdbdbd", "fontSize": 14}, "encoding": {"y": {"field": "v", "type": "quantitative", "scale": {"domain": [-0.17, 3.66], "nice": false}, "axis": {"values": [0, 1, 2, 3], "labelFontSize": 13, "tickSize": 4, "labelPadding": 2, "title": "Bleach score", "titleFontSize": 14, "titlePadding": 6}}, "text": {"field": "label"}}}
      ]}
    ]
   }
  ]
 },
 {
  "width": 642, "height": 284,
  "title": {"text": "D", "offset": -3},
  "view": {"stroke": "#333", "strokeWidth": 1.2},
  "layer": [
   {"data": {"name": "dPts"}, "mark": {"type": "point", "filled": false, "color": "#b0b0b0", "strokeWidth": 1, "size": 22, "opacity": 1},
    "encoding": {
     "x": {"field": "x", "type": "quantitative", "scale": {"domain": [-0.122, 3.137], "nice": false, "zero": false}, "axis": {"values": [0, 0.5, 1, 1.5, 2, 2.5, 3], "format": ".1f", "domain": false, "tickSize": 7, "labelFontSize": 12.5, "labelPadding": 10, "title": "Bleaching score", "titleFontSize": 12, "titlePadding": 12}},
     "y": {"field": "y", "type": "quantitative", "scale": {"domain": [-0.042, 1.042], "nice": false, "zero": false}, "axis": {"values": [0, 0.2, 0.4, 0.6, 0.8, 1], "format": ".1f", "domain": false, "tickSize": 6, "labelFontSize": 12.5, "labelPadding": 5, "labelAngle": -90, "labelAlign": "center", "labelBaseline": "bottom", "title": "Proportion of Durusdinium", "titleFontSize": 19, "titlePadding": 8}}
    }},
   {"data": {"name": "dCurve"}, "mark": {"type": "line", "strokeWidth": 1.3, "interpolate": "monotone"},
    "encoding": {
     "x": {"field": "x", "type": "quantitative", "scale": {"domain": [-0.122, 3.137], "nice": false, "zero": false}, "axis": {"values": [0, 0.5, 1, 1.5, 2, 2.5, 3], "format": ".1f", "domain": false, "tickSize": 7, "labelFontSize": 12.5, "labelPadding": 10, "title": "Bleaching score", "titleFontSize": 12, "titlePadding": 12}},
     "y": {"field": "p", "type": "quantitative", "scale": {"domain": [-0.042, 1.042], "nice": false, "zero": false}, "axis": {"values": [0, 0.2, 0.4, 0.6, 0.8, 1], "format": ".1f", "domain": false, "tickSize": 6, "labelFontSize": 12.5, "labelPadding": 5, "labelAngle": -90, "labelAlign": "center", "labelBaseline": "bottom", "title": "Proportion of Durusdinium", "titleFontSize": 19, "titlePadding": 8}},
     "color": {"field": "block", "type": "nominal", "scale": {"domain": ["Block 1", "Block 2", "Block 3", "Block 4", "Block 5"], "range": ["#440154", "#3B528B", "#21908C", "#5DC863", "#FDE725"]},
      "legend": {"orient": "top-left", "offset": 0, "title": null, "padding": 6, "strokeColor": "#333", "fillColor": "white", "labelFontSize": 12.5, "labelColor": "#111", "symbolType": "circle", "symbolSize": 45, "rowPadding": 1, "labelOffset": 7,
       "encode": {"symbols": {"update": {"fill": {"scale": "color", "field": "value"}, "strokeWidth": {"value": 0}}}}}}
    }},
   {"data": {"name": "dText"}, "mark": {"type": "text", "align": "left", "fontSize": 12.5, "color": "#111"},
    "encoding": {
     "x": {"field": "x", "type": "quantitative", "scale": {"domain": [-0.122, 3.137], "nice": false, "zero": false}, "axis": {"values": [0, 0.5, 1, 1.5, 2, 2.5, 3], "format": ".1f", "domain": false, "tickSize": 7, "labelFontSize": 12.5, "labelPadding": 10, "title": "Bleaching score", "titleFontSize": 12, "titlePadding": 12}},
     "y": {"field": "y", "type": "quantitative", "scale": {"domain": [-0.042, 1.042], "nice": false, "zero": false}, "axis": {"values": [0, 0.2, 0.4, 0.6, 0.8, 1], "format": ".1f", "domain": false, "tickSize": 6, "labelFontSize": 12.5, "labelPadding": 5, "labelAngle": -90, "labelAlign": "center", "labelBaseline": "bottom", "title": "Proportion of Durusdinium", "titleFontSize": 19, "titlePadding": 8}},
     "text": {"field": "label"}
    }}
  ]
 }
]
}
